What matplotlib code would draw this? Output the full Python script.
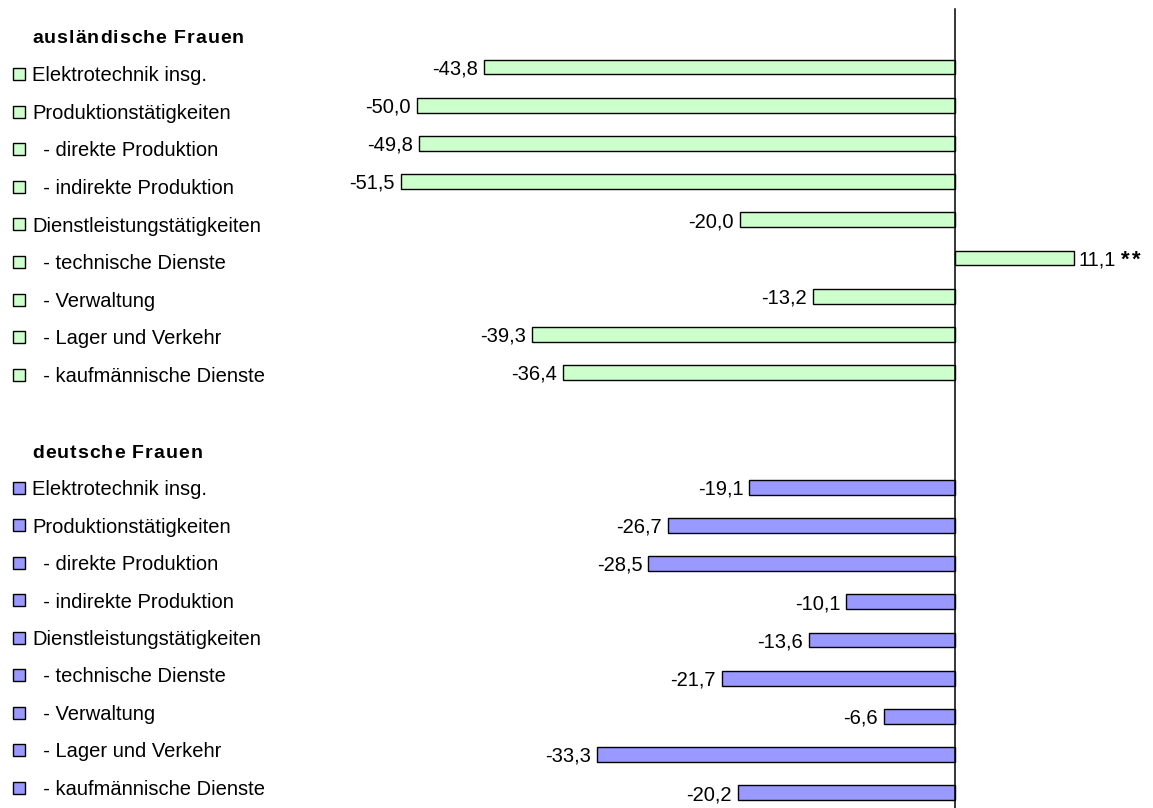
import matplotlib
matplotlib.use("Agg")
import matplotlib.pyplot as plt
from matplotlib.font_manager import FontProperties, findfont, get_font
from matplotlib.patches import Rectangle
from matplotlib import transforms

try:
    from matplotlib.ft2font import LoadFlags
    NOHINT = LoadFlags.NO_HINTING
except ImportError:  # older matplotlib
    from matplotlib.ft2font import LOAD_NO_HINTING as NOHINT

# ---------------------------------------------------------------- data
groups = ["ausländische Frauen", "deutsche Frauen"]
categories = [
    "Elektrotechnik insg.",
    "Produktionstätigkeiten",
    "  - direkte Produktion",
    "  - indirekte Produktion",
    "Dienstleistungstätigkeiten",
    "  - technische Dienste",
    "  - Verwaltung",
    "  - Lager und Verkehr",
    "  - kaufmännische Dienste",
]
values_foreign = [-43.8, -50.0, -49.8, -51.5, -20.0, 11.1, -13.2, -39.3, -36.4]
values_german = [-19.1, -26.7, -28.5, -10.1, -13.6, -21.7, -6.6, -33.3, -20.2]
notes_foreign = ["", "", "", "", "", "**", "", "", ""]
notes_german = ["", "", "", "", "", "", "", "", ""]
colors = ["#CCFFCC", "#9999FF"]

# ---------------------------------------------------------------- layout
W, H, DPI = 1153, 808, 100
FAM = "Liberation Sans"
FS = 14.5          # label font size
HFS = 14           # group header font size
ROW0, STEP = 67.0, 38.2      # pixel centre of first bar row, row pitch
ZERO_PX, UNIT_PX = 955.0, 10.76
XMIN, XMAX = -60, 18.4
AX_TOP = 9.0

fig = plt.figure(figsize=(W / DPI, H / DPI), dpi=DPI)
fig.patch.set_facecolor("white")

ax = fig.add_axes([(ZERO_PX + XMIN * UNIT_PX) / W, 0,
                   (XMAX - XMIN) * UNIT_PX / W, (H - AX_TOP) / H])
ax.set_xlim(XMIN, XMAX)
ax.set_ylim((H - ROW0) / STEP, (AX_TOP - ROW0) / STEP)
ax.axis("off")


def advances(s, size, weight):
    fp = FontProperties(family=FAM, weight=weight, size=size)
    font = get_font(findfont(fp))
    font.set_size(size, DPI)
    return [font.load_char(ord(c), flags=NOHINT).linearHoriAdvance / 65536
            for c in s]


def spaced_text(x, y_base, s, size, weight, gap):
    """Draw a string char by char (figure pixels, y from top) with tracking."""
    for c, a in zip(s, advances(s, size, weight)):
        if c != " ":
            fig.text(x / W, 1 - y_base / H, c, fontsize=size, fontweight=weight,
                     family=FAM, ha="left", va="baseline")
        x += a + gap
    return x


cap_half = 0.716 * FS * DPI / 72 / 2
lab_left = transforms.offset_copy(ax.transData, fig=fig, x=-6, y=-cap_half, units="dots")
lab_right = transforms.offset_copy(ax.transData, fig=fig, x=4, y=-cap_half, units="dots")

# bars: group 1 in rows 0..8, group 2 in rows 11..19
row_offsets = [0, 11]
for g, (vals, notes, col) in enumerate(zip([values_foreign, values_german],
                                           [notes_foreign, notes_german], colors)):
    ys = [row_offsets[g] + i for i in range(len(vals))]
    ax.barh(ys, vals, height=0.39, color=col, edgecolor="black", linewidth=1.0, zorder=2)
    for y, v, n in zip(ys, vals, notes):
        txt = f"{v:.1f}".replace(".", ",")
        if v < 0:
            ax.text(v, y, txt, transform=lab_left, ha="right", va="baseline",
                    fontsize=FS, family=FAM)
        else:
            ax.text(v, y, txt, transform=lab_right, ha="left", va="baseline",
                    fontsize=FS, family=FAM)
            if n:
                px, py = ax.transData.transform((v, y))
                x0 = px + 4 + sum(advances(txt, FS, "normal")) + 3
                spaced_text(x0, (H - py) + cap_half + 1, n, 16, "bold", 3.0)

# zero line
ax.plot([0, 0], [(AX_TOP - ROW0) / STEP, (H - ROW0) / STEP + 1], color="black",
        linewidth=1.1, zorder=3, clip_on=False)

# legend column on the left
leg_rows = [(74.0, 37.6), (488.0, 37.45)]
for g, name in enumerate(groups):
    y0, dy = leg_rows[g]
    hcap = 0.716 * HFS * DPI / 72 / 2
    spaced_text(32, y0 - dy + hcap, name, HFS, "bold", 1.0)
    for i, cat in enumerate(categories):
        yc = y0 + dy * i
        fig.add_artist(Rectangle((13.3 / W, 1 - (yc + 6) / H), 12 / W, 12 / H,
                                 transform=fig.transFigure, facecolor=colors[g],
                                 edgecolor="black", linewidth=1.0))
        fig.text(32 / W, 1 - (yc + cap_half) / H, cat, fontsize=FS, family=FAM,
                 ha="left", va="baseline")

fig.savefig("out.png", dpi=DPI)
